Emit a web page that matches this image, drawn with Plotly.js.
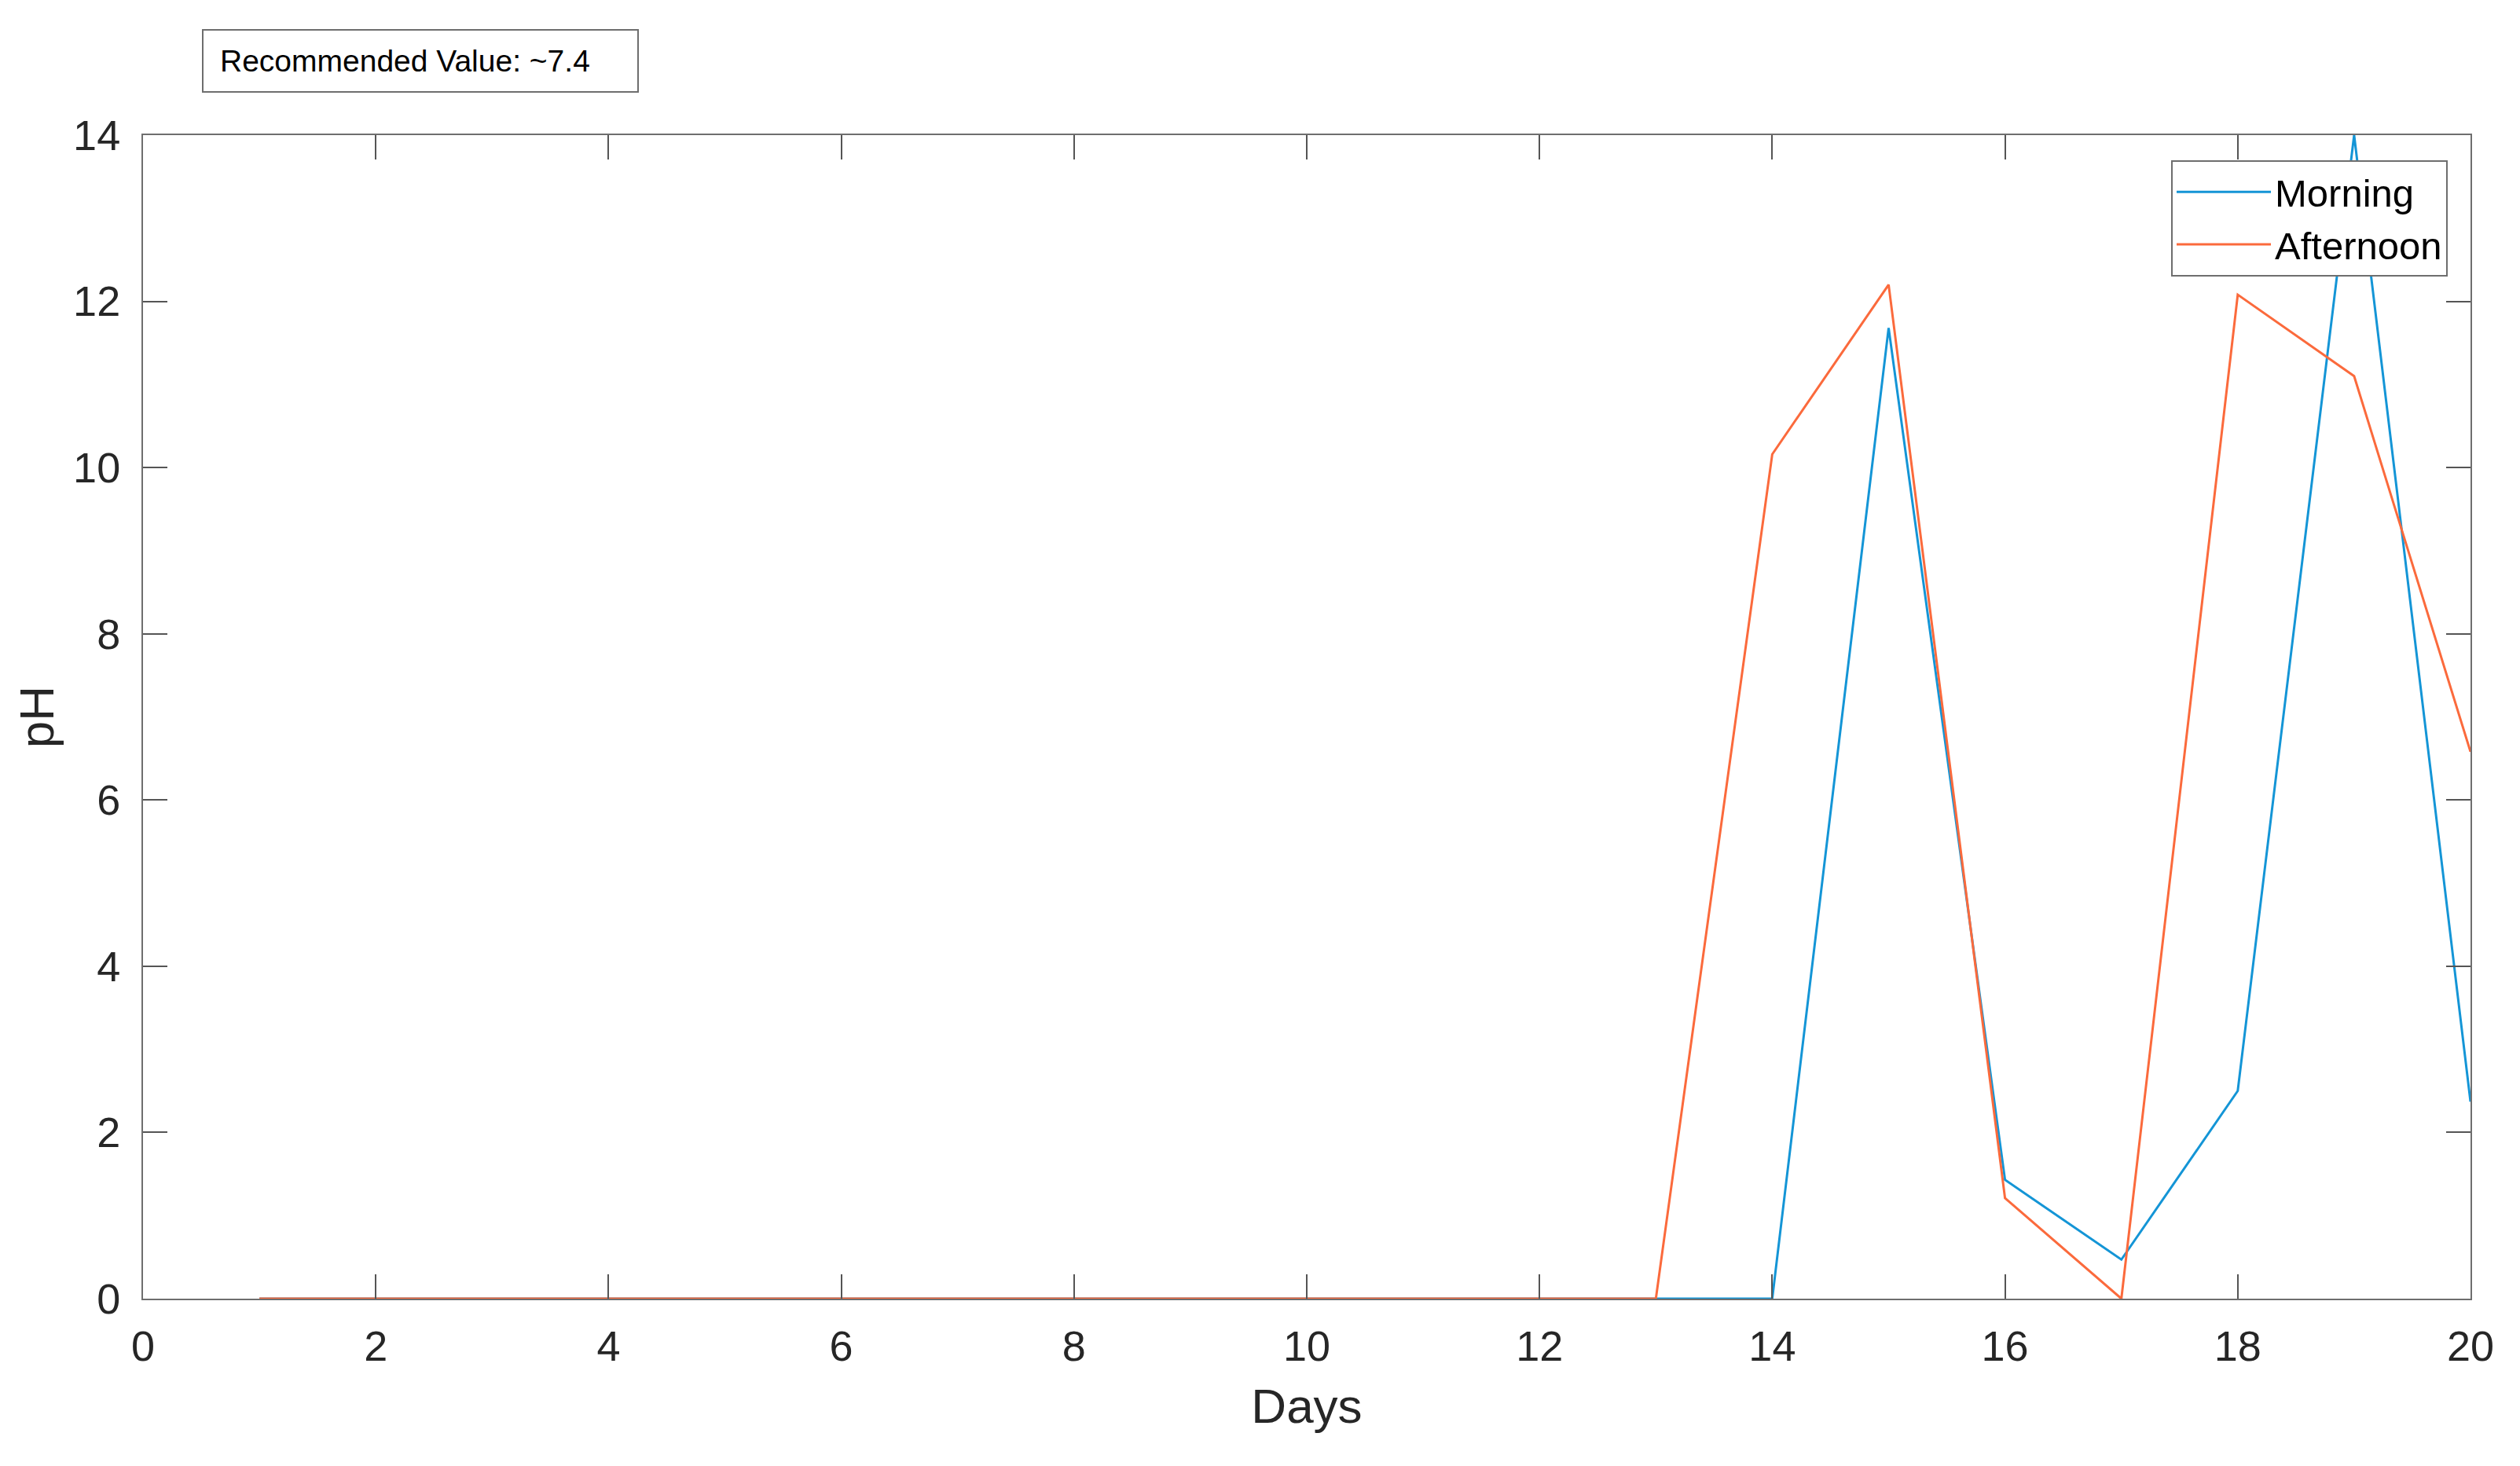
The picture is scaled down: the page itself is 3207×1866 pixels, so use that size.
<!DOCTYPE html>
<html>
<head>
<meta charset="utf-8">
<script src="https://cdn.plot.ly/plotly-3.0.1.min.js"></script>
<style>
  html, body { margin: 0; padding: 0; background: #ffffff; }
  #chart { width: 3207px; height: 1866px; }
</style>
</head>
<body>
<div id="chart"></div>
<script>
// ---- data ----
const days = [1, 2, 3, 4, 5, 6, 7, 8, 9, 10, 11, 12, 13, 14, 15, 16, 17, 18, 19, 20];
const morningPH   = [0, 0, 0, 0, 0, 0, 0, 0, 0, 0, 0, 0, 0, 0, 11.68, 1.43, 0.47, 2.5, 14.0, 2.37];
const afternoonPH = [0, 0, 0, 0, 0, 0, 0, 0, 0, 0, 0, 0, 0, 10.16, 12.2, 1.21, 0.0, 12.08, 11.1, 6.58];
const seriesNames = ['Morning', 'Afternoon'];
const xTicks = [0, 2, 4, 6, 8, 10, 12, 14, 16, 18, 20];
const yTicks = [0, 2, 4, 6, 8, 10, 12, 14];
const noteText = 'Recommended Value: ~7.4';

const FONT = '"Liberation Sans", Arial, Helvetica, sans-serif';
const TXT = '#262626';

const traces = [
  { x: days, y: morningPH, name: seriesNames[0], type: 'scatter', mode: 'lines',
    line: { color: '#1495d6', width: 3 } },
  { x: days, y: afternoonPH, name: seriesNames[1], type: 'scatter', mode: 'lines',
    line: { color: '#fb6a3c', width: 3 } }
];

const L = 182, R = 3144, T = 172, B = 1653, W = 3207, H = 1866;
const pw = R - L, ph = B - T;
const px = v => (v - L) / pw;
const py = v => (B - v) / ph;

const axisCommon = {
  showgrid: false, zeroline: false,
  showline: true, linecolor: '#6e6e6e', linewidth: 2,
  mirror: 'ticks', ticks: 'inside', ticklen: 31, tickwidth: 2, tickcolor: '#555555',
  tickfont: { family: FONT, size: 54, color: TXT },
  fixedrange: true
};

const layout = {
  width: W, height: H,
  margin: { l: L, r: W - R, t: T, b: H - B, pad: 0 },
  paper_bgcolor: '#ffffff', plot_bgcolor: '#ffffff',
  showlegend: true,
  xaxis: Object.assign({}, axisCommon, {
    range: [0, 20], tickmode: 'array', tickvals: xTicks, ticktext: xTicks.map(String),
    ticklabelstandoff: 12,
    title: { text: 'Days', font: { family: FONT, size: 62, color: TXT }, standoff: 26 }
  }),
  yaxis: Object.assign({}, axisCommon, {
    range: [0, 14], tickmode: 'array', tickvals: yTicks, ticktext: yTicks.map(String),
    ticklabelstandoff: 16,
    title: { text: 'pH', font: { family: FONT, size: 62, color: TXT }, standoff: 4 }
  }),
  legend: {
    x: px(3115), xanchor: 'right', y: py(204), yanchor: 'top',
    bgcolor: '#ffffff', bordercolor: '#6e6e6e', borderwidth: 2,
    font: { family: FONT, size: 49, color: '#000000' },
    itemwidth: 120, tracegroupgap: 0
  },
  shapes: [
    { type: 'rect', xref: 'paper', yref: 'paper',
      x0: px(258), x1: px(812), y0: py(117), y1: py(38),
      line: { color: '#6e6e6e', width: 2 }, fillcolor: 'rgba(0,0,0,0)' }
  ],
  annotations: [
    { xref: 'paper', yref: 'paper', x: px(278), y: py(77), xanchor: 'left', yanchor: 'middle',
      text: noteText, showarrow: false,
      font: { family: FONT, size: 39, color: '#000000' } }
  ]
};

Plotly.newPlot('chart', traces, layout, { displayModeBar: false, staticPlot: true });
</script>
</body>
</html>
